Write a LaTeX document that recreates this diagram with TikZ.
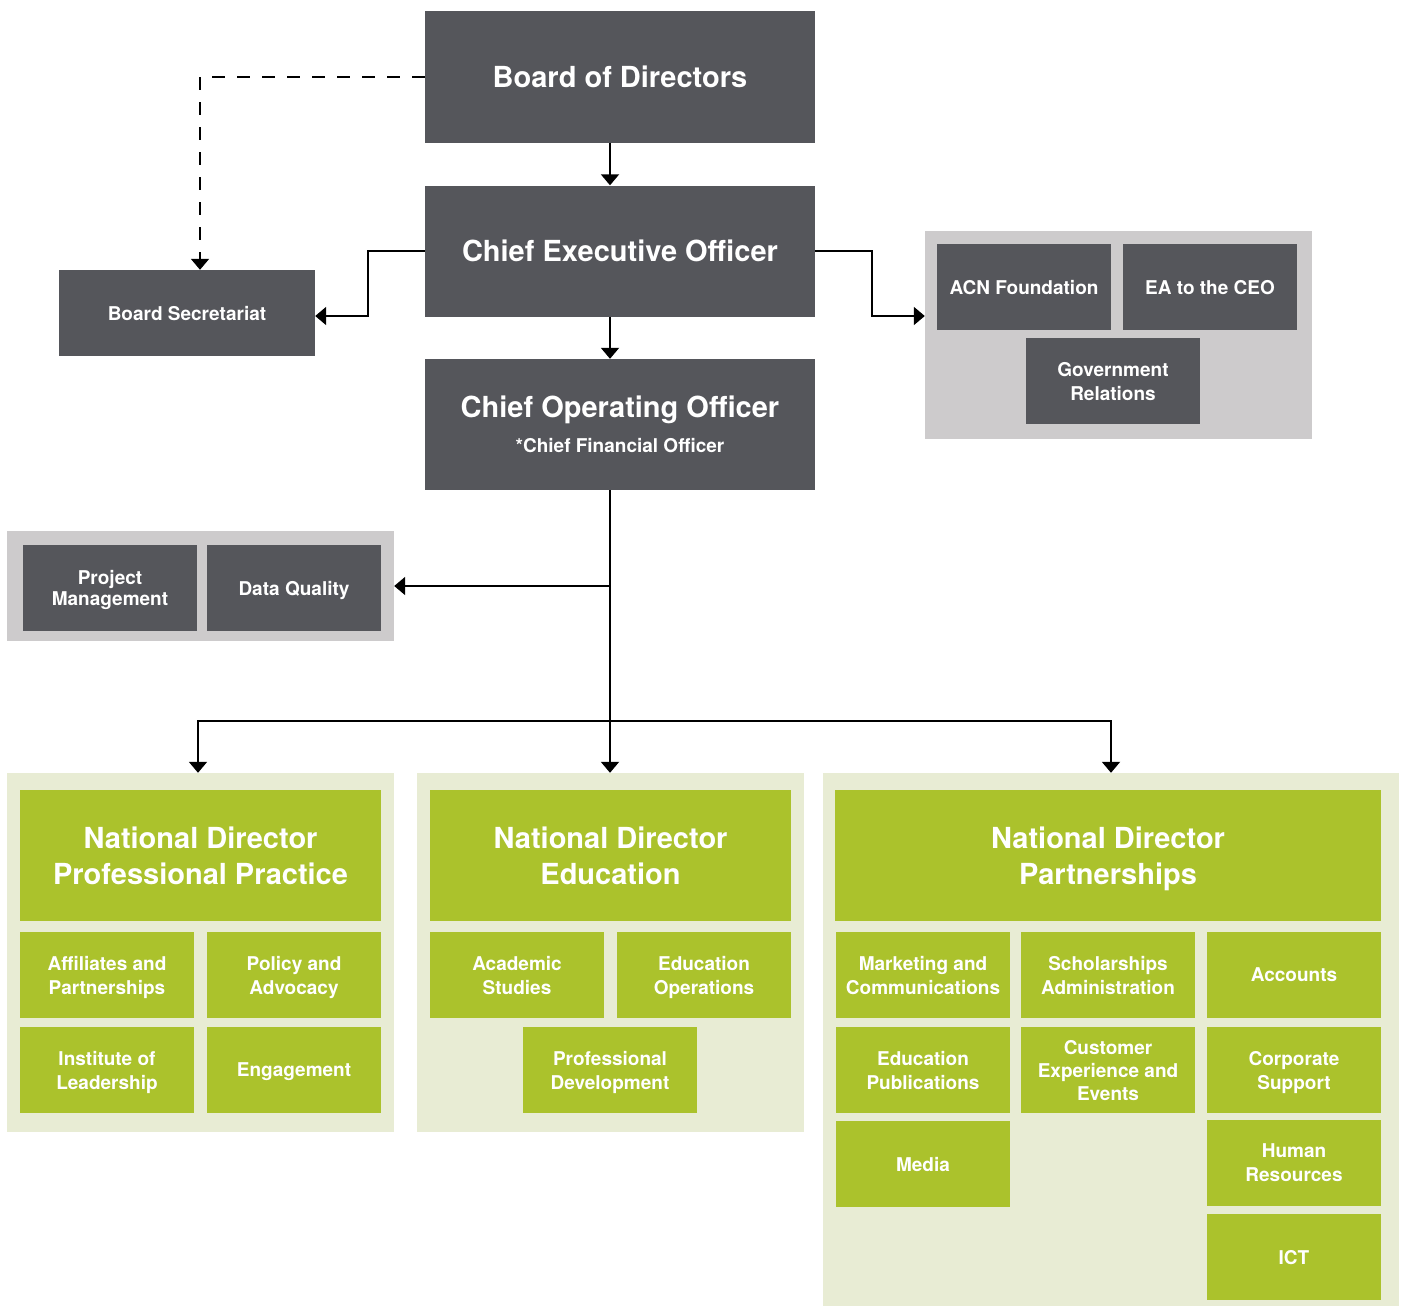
\documentclass[tikz,border=0pt]{standalone}
\usepackage{fontspec}
\setmainfont{TeX Gyre Heros}
\usetikzlibrary{arrows.meta}
\definecolor{xamdam}{HTML}{55565B}
\definecolor{xamnhat}{HTML}{CDCBCC}
\definecolor{xanhla}{HTML}{ABC22C}
\definecolor{xanhnhat}{HTML}{E8ECD4}
\begin{document}
\begin{tikzpicture}[x=1pt,y=-1pt,line join=miter,>={Triangle[width=18pt,length=11pt]},
khoilon/.style={fill=xamdam,text=white,inner sep=0pt,align=center,text depth=0pt,
minimum width=390pt,minimum height=131pt,font=\bfseries\fontsize{29}{36}\selectfont},
khoi/.style={fill=xamdam,text=white,inner sep=0pt,align=center,text depth=0pt,
minimum width=174pt,minimum height=86pt,font=\bfseries\fontsize{19}{24}\selectfont},
khoixanh/.style={khoi,fill=xanhla},
tieude/.style={khoilon,fill=xanhla,minimum width=361pt},
nen/.style={inner sep=0pt,minimum width=387pt},
duong/.style={line width=2pt}]
\useasboundingbox (0,0) rectangle (1403,1306);
% Vẽ các nền
\node[nen,fill=xamnhat,minimum height=208pt] (nenphai) at (1118.5,335) {};
\node[nen,fill=xamnhat,minimum height=110pt] (nentrai) at (200.5,586) {};
\node[nen,fill=xanhnhat,minimum height=359pt] (xtrai) at (200.5,952.5) {};
\node[nen,fill=xanhnhat,minimum height=359pt] (xgiua) at (610.5,952.5) {};
\node[nen,fill=xanhnhat,minimum width=576pt,minimum height=533pt] (xphai) at (1111,1039.5) {};
% Các khối xám
\node[khoilon] (bod) at (620,77) {Board of Directors};
\node[khoilon] (ceo) at (620,251) {Chief Executive Officer};
\node[khoilon] (coo) at (620,424.5) {Chief Operating Officer\\[-1pt]
{\fontsize{19}{22}\selectfont *Chief Financial Officer}};
\node[khoi,minimum width=256pt] (bsec) at (187,313) {Board Secretariat};
\node[khoi] (acn) at (1024,287) {ACN Foundation};
\node[khoi] (ea) at (1210,287) {EA to the CEO};
\node[khoi] (gov) at (1113,381) {Government\\Relations};
\node[khoi] (pm) at (110,588) {Project\\[-3pt]Management};
\node[khoi] (dq) at (294,588) {Data Quality};
% Các khối xanh
\node[tieude] (ndpp) at (200.5,855.5) {National Director\\Professional Practice};
\node[tieude] (nded) at (610.5,855.5) {National Director\\Education};
\node[tieude,minimum width=546pt] (ndpa) at (1108,855.5) {National Director\\Partnerships};
\node[khoixanh] (aff) at (107,975) {Affiliates and\\Partnerships};
\node[khoixanh] (pol) at (294,975) {Policy and\\Advocacy};
\node[khoixanh] (inst) at (107,1070) {Institute of\\Leadership};
\node[khoixanh] (eng) at (294,1070) {Engagement};
\node[khoixanh] (acad) at (517,975) {Academic\\Studies};
\node[khoixanh] (edops) at (704,975) {Education\\Operations};
\node[khoixanh] (pdev) at (610,1070) {Professional\\Development};
\node[khoixanh] (mkt) at (923,975) {Marketing and\\Communications};
\node[khoixanh] (sch) at (1108,975) {Scholarships\\Administration};
\node[khoixanh] (acc) at (1294,975) {Accounts};
\node[khoixanh] (edpub) at (923,1070) {Education\\Publications};
\node[khoixanh] (cust) at (1108,1070) {Customer\\[-1pt]Experience and\\[-1pt]Events};
\node[khoixanh] (corp) at (1294,1070) {Corporate\\Support};
\node[khoixanh] (media) at (923,1164) {Media};
\node[khoixanh] (hr) at (1294,1163) {Human\\Resources};
\node[khoixanh] (ict) at (1294,1257) {ICT};
% Vẽ các mũi tên
\coordinate (truc) at (610,721);
\draw[duong,dash pattern=on 13pt off 12pt,->] (bod.west) -| ([xshift=13pt]bsec.north);
\draw[duong,->] (bod.south -| truc) -- (ceo.north -| truc);
\draw[duong,->] (ceo.south -| truc) -- (coo.north -| truc);
\draw[duong,->] (ceo.west) -- ++(-57,0) |- ([yshift=-3pt]bsec.east);
\draw[duong,->] (ceo.east) -- ++(57,0) |- ([yshift=19pt]nenphai.west);
\draw[duong] (coo.south -| truc) -- (truc);
\draw[duong,->] (nentrai.east -| truc) -- (nentrai.east);
\draw[duong,->] (truc) -| ([xshift=-2.5pt]xtrai.north);
\draw[duong,->] (truc) -- (xgiua.north -| truc);
\draw[duong,->] (truc) -| (xphai.north);
\end{tikzpicture}
\end{document}
